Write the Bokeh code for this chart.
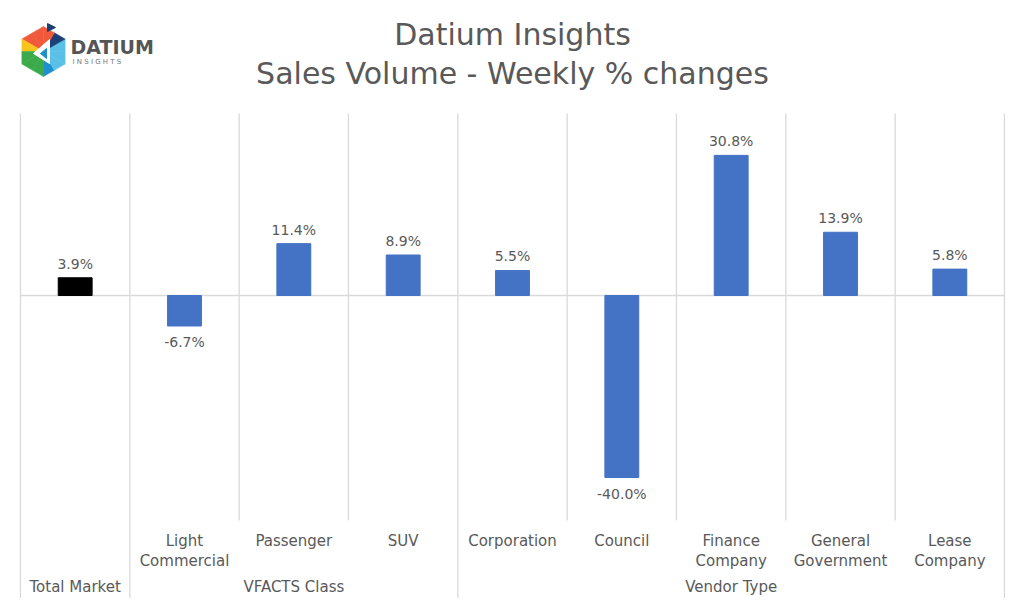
from bokeh.plotting import figure
from bokeh.models import Range1d, ColumnDataSource, Label
from bokeh.core.properties import value
from bokeh.embed import file_html
from bokeh.resources import INLINE
import math

# ---- data ----
categories = ["", "Light\nCommercial", "Passenger", "SUV", "Corporation",
              "Council", "Finance\nCompany", "General\nGovernment", "Lease\nCompany"]
values = [3.9, -6.7, 11.4, 8.9, 5.5, -40.0, 30.8, 13.9, 5.8]
labels = ["3.9%", "-6.7%", "11.4%", "8.9%", "5.5%", "-40.0%", "30.8%", "13.9%", "5.8%"]
groups = ["Total Market", "VFACTS Class", "Vendor Type"]
group_sizes = [1, 3, 5]
bar_colors = ["#000000"] + ["#4472C4"] * 8

FONT = "DejaVu Sans"
GRAY = "#595959"
LINE = "#d9d9d9"

# layout helpers (canvas pixel -> data units)
PX_X0, PX_CAT = 20.0, 984.0 / 9
PX_Y0, PX_PCT = 295.0, 4.55
def fx(px):
    return (px - PX_X0) / PX_CAT
def fy(py):
    return (PX_Y0 - py) / PX_PCT

W, H = 1008, 598
p = figure(width=W, height=H, output_backend="svg", toolbar_location=None,
           x_range=Range1d(fx(0), fx(W)), y_range=Range1d(fy(H), fy(0)),
           x_axis_type=None, y_axis_type=None, min_border=0)
p.outline_line_color = None
p.grid.visible = False
p.background_fill_color = "white"
p.border_fill_color = "white"

n = len(values)
centers = [i + 0.5 for i in range(n)]

# separators
bounds = [0]
for s in group_sizes:
    bounds.append(bounds[-1] + s)
xs0, ys0, xs1, ys1 = [], [], [], []
for b in range(n + 1):
    xs0.append(b); xs1.append(b)
    ys0.append(fy(113))
    ys1.append(fy(598) if b in bounds else fy(520))
p.segment(x0=xs0, y0=ys0, x1=xs1, y1=ys1, line_color=LINE, line_width=1.3)
p.segment(x0=[0], y0=[0], x1=[n], y1=[0], line_color=LINE, line_width=1.3)

# bars
src = ColumnDataSource(dict(x=centers, top=values, color=bar_colors, lab=labels,
                            cat=categories))
p.vbar(x="x", top="top", bottom=0, width=0.31, fill_color="color",
       line_color="color", source=src)

pos = ColumnDataSource(dict(x=[c for c, v in zip(centers, values) if v >= 0],
                            y=[v for v in values if v >= 0],
                            t=[l for l, v in zip(labels, values) if v >= 0]))
neg = ColumnDataSource(dict(x=[c for c, v in zip(centers, values) if v < 0],
                            y=[v for v in values if v < 0],
                            t=[l for l, v in zip(labels, values) if v < 0]))
p.text(x="x", y="y", text="t", source=pos, text_align="center",
       text_baseline="bottom", y_offset=-6, text_font=value(FONT),
       text_font_size="14px", text_color=GRAY)
p.text(x="x", y="y", text="t", source=neg, text_align="center",
       text_baseline="top", y_offset=8, text_font=value(FONT),
       text_font_size="14px", text_color=GRAY)

# category labels
p.text(x="x", y=fy(531), text="cat", source=src, text_align="center",
       text_baseline="top", text_font=value(FONT), text_font_size="15px",
       text_color=GRAY, text_line_height=1.12)

# group labels
gx = [(bounds[i] + bounds[i + 1]) / 2 for i in range(len(groups))]
p.text(x=gx, y=[fy(586)] * len(groups), text=groups, text_align="center",
       text_baseline="middle", text_font=value(FONT), text_font_size="15px",
       text_color=GRAY)

# title
for txt, py in [("Datium Insights", 34), ("Sales Volume - Weekly % changes", 73)]:
    p.add_layout(Label(x=512, y=H - py, x_units="screen", y_units="screen",
                       text=txt, text_align="center", text_baseline="middle",
                       text_font=FONT, text_font_size="30px", text_color=GRAY))

# logo (hexagon of coloured triangles)
cx, cy, r = 43, 51, 25
verts = [(cx + r * math.cos(math.radians(a)), cy - r * math.sin(math.radians(a)))
         for a in [90, 150, 210, 270, 330, 30]]
tri_colors = ["#f05a3a", "#f7c51e", "#3aaa4a", "#1f8fcf", "#5bc0e8", "#1c3f78"]
lxs, lys, lcs = [], [], []
for i in range(6):
    a = verts[i]; b = verts[(i + 1) % 6]
    m = ((a[0] + b[0]) / 2, (a[1] + b[1]) / 2)
    lxs.append([fx(cx), fx(a[0]), fx(m[0])]); lys.append([fy(cy), fy(a[1]), fy(m[1])])
    lxs.append([fx(cx), fx(m[0]), fx(b[0])]); lys.append([fy(cy), fy(m[1]), fy(b[1])])
    lcs.append(tri_colors[i]); lcs.append(tri_colors[(i + 1) % 6] if i % 2 else tri_colors[i])
p.patches(xs=lxs, ys=lys, fill_color=lcs, line_color=lcs, line_width=0.5)
p.patch(x=[fx(cx - 10), fx(cx + 6), fx(cx + 6)], y=[fy(cy + 2), fy(cy - 12), fy(cy + 12)],
        fill_color="white", line_color="white")
p.patch(x=[fx(cx - 3), fx(cx + 3), fx(cx + 3)], y=[fy(cy + 2), fy(cy - 3), fy(cy + 7)],
        fill_color="#1f8fcf", line_color="#1f8fcf")
p.patch(x=[fx(47), fx(55), fx(47)], y=[fy(23), fy(27), fy(31)],
        fill_color="#1c3f78", line_color="#1c3f78")
p.add_layout(Label(x=70, y=H - 46, x_units="screen", y_units="screen",
                   text="DATIUM", text_align="left", text_baseline="middle",
                   text_font=FONT, text_font_size="19px", text_font_style="bold",
                   text_color="#555555"))
p.add_layout(Label(x=72, y=H - 61, x_units="screen", y_units="screen",
                   text="I N S I G H T S", text_align="left", text_baseline="middle",
                   text_font=FONT, text_font_size="7px", text_color="#777777"))

open("out.html", "w").write(file_html(p, INLINE))
